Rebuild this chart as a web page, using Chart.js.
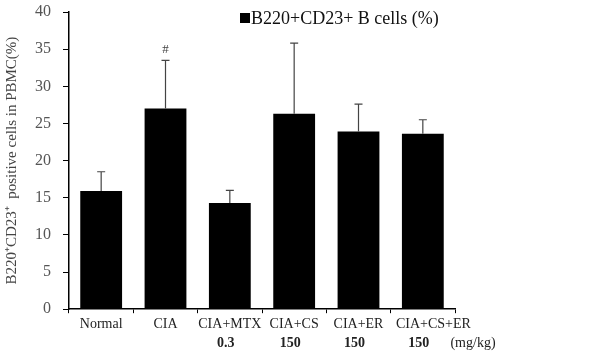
<!DOCTYPE html>
<html>
<head>
<meta charset="utf-8">
<script src="https://cdn.jsdelivr.net/npm/chart.js@4"></script>
<style>
html,body{margin:0;padding:0;background:#fff;}
#wrap{width:590px;height:363px;position:relative;}
</style>
</head>
<body>
<div id="wrap"><canvas id="c" width="590" height="363"></canvas></div>
<script>
const categories = ["Normal", "CIA", "CIA+MTX", "CIA+CS", "CIA+ER", "CIA+CS+ER"];
const doses = ["", "", "0.3", "150", "150", "150"];
const doseUnit = "(mg/kg)";
const means = [15.9, 27.0, 14.3, 26.3, 23.9, 23.6];
const errors = [2.6, 6.5, 1.7, 9.5, 3.7, 1.9];
const marks = ["", "#", "", "", "", ""];
const yTicks = [0, 5, 10, 15, 20, 25, 30, 35, 40];
const seriesLabel = "B220+CD23+ B cells (%)";
const yTitle = "B220\u207ACD23\u207A  positive cells in PBMC(%)";

const serif = "'Liberation Serif', 'Times New Roman', serif";

const extras = {
  id: 'extras',
  afterDatasetsDraw(chart) {
    const ctx = chart.ctx;
    const x = chart.scales.x, y = chart.scales.y;
    ctx.save();
    ctx.strokeStyle = '#444';
    ctx.lineWidth = 1.2;
    means.forEach((m, i) => {
      const px = x.getPixelForValue(i);
      const top = y.getPixelForValue(m + errors[i]);
      const base = y.getPixelForValue(m);
      ctx.beginPath();
      ctx.moveTo(px, base);
      ctx.lineTo(px, top);
      ctx.moveTo(px - 4, top);
      ctx.lineTo(px + 4, top);
      ctx.stroke();
      if (marks[i]) {
        ctx.fillStyle = '#444';
        ctx.font = "13px " + serif;
        ctx.textAlign = 'center';
        ctx.textBaseline = 'bottom';
        ctx.fillText(marks[i], px, top - 4);
      }
    });
    ctx.fillStyle = '#222';
    ctx.font = "bold 14px " + serif;
    ctx.textAlign = 'center';
    ctx.textBaseline = 'middle';
    doses.forEach((d, i) => {
      if (d) ctx.fillText(d, x.getPixelForValue(i) - 4, 343);
    });
    ctx.font = "14px " + serif;
    ctx.fillText(doseUnit, x.right + 18, 343);
    const lx = 240, ly = 18;
    ctx.fillStyle = '#000';
    ctx.fillRect(lx, ly - 5, 10, 10);
    ctx.fillStyle = '#111';
    ctx.font = "18px " + serif;
    ctx.textAlign = 'left';
    ctx.textBaseline = 'middle';
    ctx.fillText(seriesLabel, lx + 11, ly + 1);
    ctx.restore();
  }
};

new Chart(document.getElementById('c'), {
  type: 'bar',
  data: {
    labels: categories,
    datasets: [{
      label: seriesLabel,
      data: means,
      backgroundColor: '#000',
      borderWidth: 0,
      barPercentage: 0.65,
      categoryPercentage: 1.0
    }]
  },
  options: {
    responsive: false,
    animation: false,
    layout: { autoPadding: false, padding: { left: 3, right: 135, top: 12, bottom: 27 } },
    plugins: {
      legend: { display: false },
      tooltip: { enabled: false }
    },
    scales: {
      x: {
        grid: {
          display: true, drawOnChartArea: false, drawTicks: true,
          tickLength: 4, color: '#000', offset: true
        },
        border: { display: true, color: '#000', width: 1.5 },
        ticks: {
          color: '#222', padding: 3, maxRotation: 0, minRotation: 0, autoSkip: false,
          font: { family: serif, size: 14 },
          callback: (v, i) => (i === categories.length - 1 ? '\u2002\u2002\u2002' : '') + categories[i]
        }
      },
      y: {
        min: 0, max: 40,
        afterBuildTicks(scale) { scale.ticks = yTicks.map(v => ({ value: v })); },
        afterFit(scale) { scale.paddingTop = 0; scale.paddingBottom = 0; },
        grid: {
          display: true, drawOnChartArea: false, drawTicks: true,
          tickLength: 6, color: '#000'
        },
        border: { display: true, color: '#000', width: 1.5 },
        ticks: {
          color: '#555', padding: 12,
          font: { family: serif, size: 16 }
        },
        title: {
          display: true, text: yTitle, color: '#444',
          font: { family: serif, size: 15 }, padding: { top: 0, bottom: 2 }
        }
      }
    }
  },
  plugins: [extras]
});
</script>
</body>
</html>
